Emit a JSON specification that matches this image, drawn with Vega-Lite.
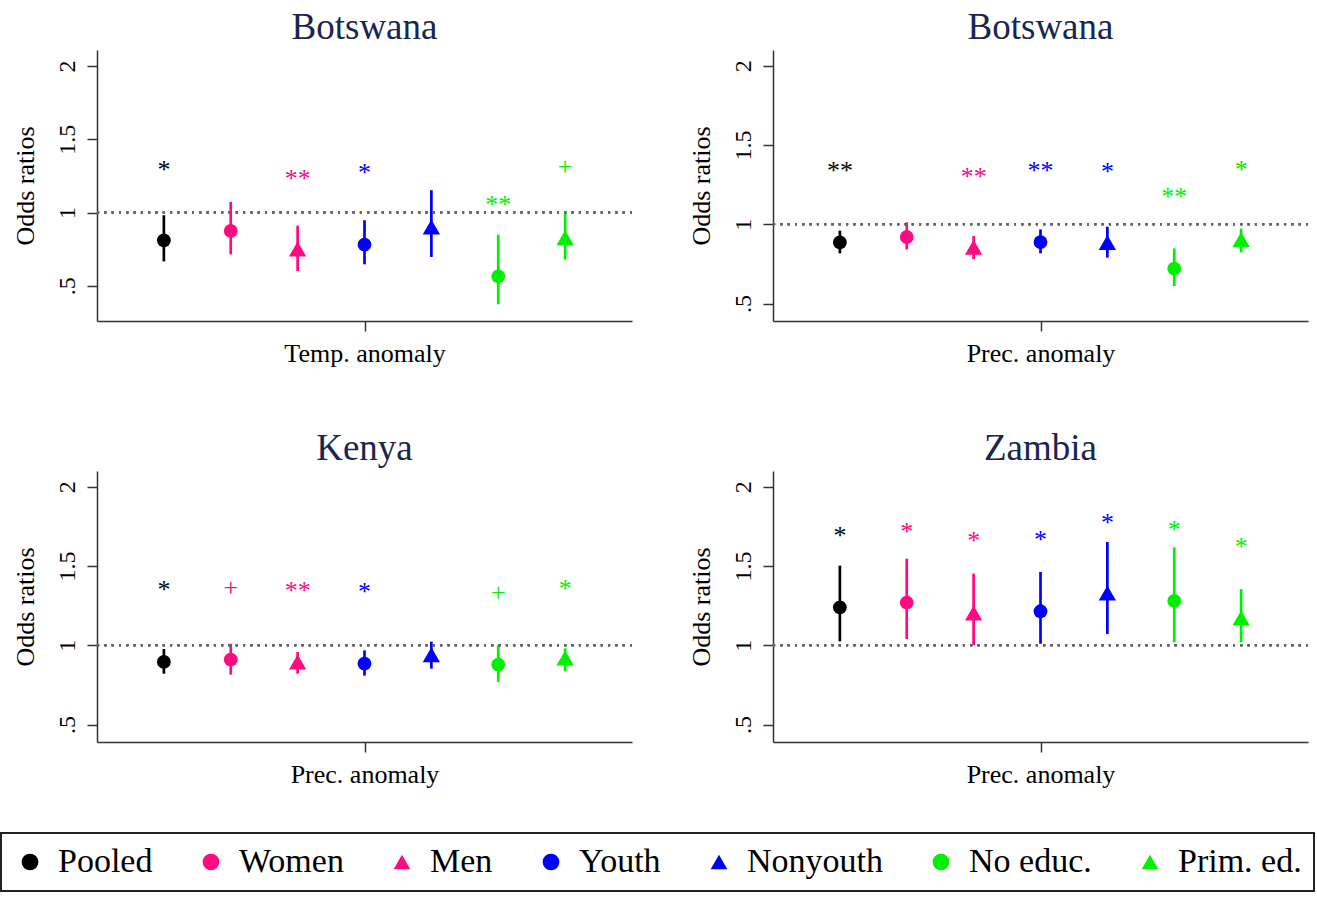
{
  "$schema": "https://vega.github.io/schema/vega-lite/v6.json",
  "background": "white",
  "padding": {"left": 0, "top": 9, "right": 1, "bottom": 1},
  "data": {"values": [
    {"panel": "p1", "group": "Pooled", "or": 0.811, "lo": 0.667, "hi": 0.982, "sig": "*", "sig_y": 1.32},
    {"panel": "p1", "group": "Women", "or": 0.875, "lo": 0.715, "hi": 1.073, "sig": "", "sig_y": null},
    {"panel": "p1", "group": "Men", "or": 0.752, "lo": 0.601, "hi": 0.911, "sig": "**", "sig_y": 1.257},
    {"panel": "p1", "group": "Youth", "or": 0.781, "lo": 0.647, "hi": 0.948, "sig": "*", "sig_y": 1.30},
    {"panel": "p1", "group": "Nonyouth", "or": 0.902, "lo": 0.697, "hi": 1.153, "sig": "", "sig_y": null},
    {"panel": "p1", "group": "No educ.", "or": 0.565, "lo": 0.374, "hi": 0.850, "sig": "**", "sig_y": 1.082},
    {"panel": "p1", "group": "Prim. ed.", "or": 0.829, "lo": 0.679, "hi": 0.998, "sig": "+", "sig_y": 1.31},
    {"panel": "p2", "group": "Pooled", "or": 0.886, "lo": 0.817, "hi": 0.960, "sig": "**", "sig_y": 1.364},
    {"panel": "p2", "group": "Women", "or": 0.920, "lo": 0.842, "hi": 1.013, "sig": "", "sig_y": null},
    {"panel": "p2", "group": "Men", "or": 0.855, "lo": 0.779, "hi": 0.926, "sig": "**", "sig_y": 1.326},
    {"panel": "p2", "group": "Youth", "or": 0.888, "lo": 0.817, "hi": 0.968, "sig": "**", "sig_y": 1.364},
    {"panel": "p2", "group": "Nonyouth", "or": 0.886, "lo": 0.790, "hi": 0.985, "sig": "*", "sig_y": 1.354},
    {"panel": "p2", "group": "No educ.", "or": 0.720, "lo": 0.611, "hi": 0.848, "sig": "**", "sig_y": 1.196},
    {"panel": "p2", "group": "Prim. ed.", "or": 0.905, "lo": 0.823, "hi": 0.973, "sig": "*", "sig_y": 1.37},
    {"panel": "p3", "group": "Pooled", "or": 0.895, "lo": 0.821, "hi": 0.977, "sig": "*", "sig_y": 1.372},
    {"panel": "p3", "group": "Women", "or": 0.910, "lo": 0.815, "hi": 1.010, "sig": "+", "sig_y": 1.362},
    {"panel": "p3", "group": "Men", "or": 0.895, "lo": 0.821, "hi": 0.958, "sig": "**", "sig_y": 1.366},
    {"panel": "p3", "group": "Youth", "or": 0.884, "lo": 0.809, "hi": 0.968, "sig": "*", "sig_y": 1.362},
    {"panel": "p3", "group": "Nonyouth", "or": 0.941, "lo": 0.853, "hi": 1.023, "sig": "", "sig_y": null},
    {"panel": "p3", "group": "No educ.", "or": 0.878, "lo": 0.769, "hi": 1.000, "sig": "+", "sig_y": 1.33},
    {"panel": "p3", "group": "Prim. ed.", "or": 0.920, "lo": 0.836, "hi": 0.981, "sig": "*", "sig_y": 1.383},
    {"panel": "p4", "group": "Pooled", "or": 1.240, "lo": 1.025, "hi": 1.503, "sig": "*", "sig_y": 1.713},
    {"panel": "p4", "group": "Women", "or": 1.269, "lo": 1.040, "hi": 1.547, "sig": "*", "sig_y": 1.74},
    {"panel": "p4", "group": "Men", "or": 1.204, "lo": 1.000, "hi": 1.452, "sig": "*", "sig_y": 1.681},
    {"panel": "p4", "group": "Youth", "or": 1.215, "lo": 1.010, "hi": 1.463, "sig": "*", "sig_y": 1.688},
    {"panel": "p4", "group": "Nonyouth", "or": 1.330, "lo": 1.071, "hi": 1.652, "sig": "*", "sig_y": 1.80},
    {"panel": "p4", "group": "No educ.", "or": 1.280, "lo": 1.019, "hi": 1.618, "sig": "*", "sig_y": 1.755},
    {"panel": "p4", "group": "Prim. ed.", "or": 1.172, "lo": 1.019, "hi": 1.355, "sig": "*", "sig_y": 1.646}
  ]},
  "columns": 2,
  "bounds": "flush",
  "spacing": {"row": 150, "column": 141},
  "resolve": {"scale": {"color": "shared", "shape": "shared", "stroke": "shared", "fill": "shared", "y": "independent"}},
  "concat": [
    {
      "title": "Botswana",
      "width": 535, "height": 271,
      "transform": [{"filter": "datum.panel == 'p1'"}],
      "layer": [
        {"mark": {"type": "rule", "strokeWidth": 2.7},
         "encoding": {
           "x": {"field": "group", "type": "nominal", "scale": {"type": "point", "padding": 1, "domain": ["Pooled", "Women", "Men", "Youth", "Nonyouth", "No educ.", "Prim. ed."]}, "axis": {"values": ["Youth"], "labelExpr": "'Temp. anomaly'", "title": null, "labelAngle": 0}},
           "y": {"field": "lo", "type": "quantitative", "scale": {"domain": [0.26, 2.11], "nice": false, "zero": false}, "axis": {"title": "Odds ratios", "values": [0.5, 1, 1.5, 2], "labelExpr": "datum.value == 0.5 ? '.5' : toString(datum.value)"}},
           "y2": {"field": "hi"},
           "stroke": {"field": "group", "type": "nominal", "legend": null, "scale": {"domain": ["Prim. ed.", "No educ.", "Nonyouth", "Youth", "Men", "Women", "Pooled"], "range": ["#00f000", "#00f000", "#0000ff", "#0000ff", "#ff0a80", "#ff0a80", "#000000"]}}}},
        {"mark": {"type": "rule", "strokeDash": [2, 5.3], "strokeWidth": 2, "color": "#666"}, "encoding": {"y": {"datum": 1, "type": "quantitative"}}},
        {"transform": [{"filter": "indexof(['Men', 'Nonyouth', 'Prim. ed.'], datum.group) < 0"}],
         "mark": {"type": "point", "filled": true, "opacity": 1, "size": 190},
         "encoding": {
           "x": {"field": "group", "type": "nominal"},
           "y": {"field": "or", "type": "quantitative"},
           "color": {"field": "group", "type": "nominal", "title": null, "scale": {"domain": ["Pooled", "Women", "Men", "Youth", "Nonyouth", "No educ.", "Prim. ed."], "range": ["#000000", "#ff0a80", "#ff0a80", "#0000ff", "#0000ff", "#00f000", "#00f000"]}},
           "shape": {"field": "group", "type": "nominal", "title": null, "scale": {"domain": ["Pooled", "Women", "Men", "Youth", "Nonyouth", "No educ.", "Prim. ed."], "range": ["circle", "circle", "triangle-up", "circle", "triangle-up", "circle", "triangle-up"]}}}},
        {"transform": [{"filter": "indexof(['Men', 'Nonyouth', 'Prim. ed.'], datum.group) >= 0"}],
         "mark": {"type": "point", "filled": true, "opacity": 1, "size": 300},
         "encoding": {
           "x": {"field": "group", "type": "nominal"},
           "y": {"field": "or", "type": "quantitative"},
           "color": {"field": "group", "type": "nominal", "title": null},
           "shape": {"field": "group", "type": "nominal", "title": null}}},
        {"transform": [{"filter": "datum.sig != '+'"}],
         "mark": {"type": "text", "fontSize": 26, "baseline": "middle", "dy": 4, "font": "Liberation Serif"},
         "encoding": {
           "x": {"field": "group", "type": "nominal"},
           "y": {"field": "sig_y", "type": "quantitative"},
           "text": {"field": "sig"},
           "fill": {"field": "group", "type": "nominal", "legend": null, "scale": {"domain": ["Prim. ed.", "No educ.", "Nonyouth", "Youth", "Men", "Women", "Pooled"], "range": ["#00f000", "#00f000", "#0000ff", "#0000ff", "#ff0a80", "#ff0a80", "#000000"]}}}},
        {"transform": [{"filter": "datum.sig == '+'"}],
         "mark": {"type": "text", "fontSize": 26, "baseline": "middle", "dy": 0, "font": "Liberation Serif"},
         "encoding": {
           "x": {"field": "group", "type": "nominal"},
           "y": {"field": "sig_y", "type": "quantitative"},
           "text": {"field": "sig"},
           "fill": {"field": "group", "type": "nominal", "legend": null}}}
      ]
    },
    {
      "title": "Botswana",
      "width": 535, "height": 271,
      "transform": [{"filter": "datum.panel == 'p2'"}],
      "layer": [
        {"mark": {"type": "rule", "strokeWidth": 2.7},
         "encoding": {
           "x": {"field": "group", "type": "nominal", "scale": {"type": "point", "padding": 1, "domain": ["Pooled", "Women", "Men", "Youth", "Nonyouth", "No educ.", "Prim. ed."]}, "axis": {"values": ["Youth"], "labelExpr": "'Prec. anomaly'", "title": null, "labelAngle": 0}},
           "y": {"field": "lo", "type": "quantitative", "scale": {"domain": [0.39, 2.1], "nice": false, "zero": false}, "axis": {"title": "Odds ratios", "values": [0.5, 1, 1.5, 2], "labelExpr": "datum.value == 0.5 ? '.5' : toString(datum.value)"}},
           "y2": {"field": "hi"},
           "stroke": {"field": "group", "type": "nominal", "legend": null}}},
        {"mark": {"type": "rule", "strokeDash": [2, 5.3], "strokeWidth": 2, "color": "#666"}, "encoding": {"y": {"datum": 1, "type": "quantitative"}}},
        {"transform": [{"filter": "indexof(['Men', 'Nonyouth', 'Prim. ed.'], datum.group) < 0"}],
         "mark": {"type": "point", "filled": true, "opacity": 1, "size": 190},
         "encoding": {
           "x": {"field": "group", "type": "nominal"},
           "y": {"field": "or", "type": "quantitative"},
           "color": {"field": "group", "type": "nominal", "title": null},
           "shape": {"field": "group", "type": "nominal", "title": null}}},
        {"transform": [{"filter": "indexof(['Men', 'Nonyouth', 'Prim. ed.'], datum.group) >= 0"}],
         "mark": {"type": "point", "filled": true, "opacity": 1, "size": 300},
         "encoding": {
           "x": {"field": "group", "type": "nominal"},
           "y": {"field": "or", "type": "quantitative"},
           "color": {"field": "group", "type": "nominal", "title": null},
           "shape": {"field": "group", "type": "nominal", "title": null}}},
        {"transform": [{"filter": "datum.sig != '+'"}],
         "mark": {"type": "text", "fontSize": 26, "baseline": "middle", "dy": 4, "font": "Liberation Serif"},
         "encoding": {
           "x": {"field": "group", "type": "nominal"},
           "y": {"field": "sig_y", "type": "quantitative"},
           "text": {"field": "sig"},
           "fill": {"field": "group", "type": "nominal", "legend": null}}},
        {"transform": [{"filter": "datum.sig == '+'"}],
         "mark": {"type": "text", "fontSize": 26, "baseline": "middle", "dy": 0, "font": "Liberation Serif"},
         "encoding": {
           "x": {"field": "group", "type": "nominal"},
           "y": {"field": "sig_y", "type": "quantitative"},
           "text": {"field": "sig"},
           "fill": {"field": "group", "type": "nominal", "legend": null}}}
      ]
    },
    {
      "title": "Kenya",
      "width": 535, "height": 271,
      "transform": [{"filter": "datum.panel == 'p3'"}],
      "layer": [
        {"mark": {"type": "rule", "strokeWidth": 2.7},
         "encoding": {
           "x": {"field": "group", "type": "nominal", "scale": {"type": "point", "padding": 1, "domain": ["Pooled", "Women", "Men", "Youth", "Nonyouth", "No educ.", "Prim. ed."]}, "axis": {"values": ["Youth"], "labelExpr": "'Prec. anomaly'", "title": null, "labelAngle": 0}},
           "y": {"field": "lo", "type": "quantitative", "scale": {"domain": [0.39, 2.1], "nice": false, "zero": false}, "axis": {"title": "Odds ratios", "values": [0.5, 1, 1.5, 2], "labelExpr": "datum.value == 0.5 ? '.5' : toString(datum.value)"}},
           "y2": {"field": "hi"},
           "stroke": {"field": "group", "type": "nominal", "legend": null}}},
        {"mark": {"type": "rule", "strokeDash": [2, 5.3], "strokeWidth": 2, "color": "#666"}, "encoding": {"y": {"datum": 1, "type": "quantitative"}}},
        {"transform": [{"filter": "indexof(['Men', 'Nonyouth', 'Prim. ed.'], datum.group) < 0"}],
         "mark": {"type": "point", "filled": true, "opacity": 1, "size": 190},
         "encoding": {
           "x": {"field": "group", "type": "nominal"},
           "y": {"field": "or", "type": "quantitative"},
           "color": {"field": "group", "type": "nominal", "title": null},
           "shape": {"field": "group", "type": "nominal", "title": null}}},
        {"transform": [{"filter": "indexof(['Men', 'Nonyouth', 'Prim. ed.'], datum.group) >= 0"}],
         "mark": {"type": "point", "filled": true, "opacity": 1, "size": 300},
         "encoding": {
           "x": {"field": "group", "type": "nominal"},
           "y": {"field": "or", "type": "quantitative"},
           "color": {"field": "group", "type": "nominal", "title": null},
           "shape": {"field": "group", "type": "nominal", "title": null}}},
        {"transform": [{"filter": "datum.sig != '+'"}],
         "mark": {"type": "text", "fontSize": 26, "baseline": "middle", "dy": 4, "font": "Liberation Serif"},
         "encoding": {
           "x": {"field": "group", "type": "nominal"},
           "y": {"field": "sig_y", "type": "quantitative"},
           "text": {"field": "sig"},
           "fill": {"field": "group", "type": "nominal", "legend": null}}},
        {"transform": [{"filter": "datum.sig == '+'"}],
         "mark": {"type": "text", "fontSize": 26, "baseline": "middle", "dy": 0, "font": "Liberation Serif"},
         "encoding": {
           "x": {"field": "group", "type": "nominal"},
           "y": {"field": "sig_y", "type": "quantitative"},
           "text": {"field": "sig"},
           "fill": {"field": "group", "type": "nominal", "legend": null}}}
      ]
    },
    {
      "title": "Zambia",
      "width": 535, "height": 271,
      "transform": [{"filter": "datum.panel == 'p4'"}],
      "layer": [
        {"mark": {"type": "rule", "strokeWidth": 2.7},
         "encoding": {
           "x": {"field": "group", "type": "nominal", "scale": {"type": "point", "padding": 1, "domain": ["Pooled", "Women", "Men", "Youth", "Nonyouth", "No educ.", "Prim. ed."]}, "axis": {"values": ["Youth"], "labelExpr": "'Prec. anomaly'", "title": null, "labelAngle": 0}},
           "y": {"field": "lo", "type": "quantitative", "scale": {"domain": [0.39, 2.1], "nice": false, "zero": false}, "axis": {"title": "Odds ratios", "values": [0.5, 1, 1.5, 2], "labelExpr": "datum.value == 0.5 ? '.5' : toString(datum.value)"}},
           "y2": {"field": "hi"},
           "stroke": {"field": "group", "type": "nominal", "legend": null}}},
        {"mark": {"type": "rule", "strokeDash": [2, 5.3], "strokeWidth": 2, "color": "#666"}, "encoding": {"y": {"datum": 1, "type": "quantitative"}}},
        {"transform": [{"filter": "indexof(['Men', 'Nonyouth', 'Prim. ed.'], datum.group) < 0"}],
         "mark": {"type": "point", "filled": true, "opacity": 1, "size": 190},
         "encoding": {
           "x": {"field": "group", "type": "nominal"},
           "y": {"field": "or", "type": "quantitative"},
           "color": {"field": "group", "type": "nominal", "title": null},
           "shape": {"field": "group", "type": "nominal", "title": null}}},
        {"transform": [{"filter": "indexof(['Men', 'Nonyouth', 'Prim. ed.'], datum.group) >= 0"}],
         "mark": {"type": "point", "filled": true, "opacity": 1, "size": 300},
         "encoding": {
           "x": {"field": "group", "type": "nominal"},
           "y": {"field": "or", "type": "quantitative"},
           "color": {"field": "group", "type": "nominal", "title": null},
           "shape": {"field": "group", "type": "nominal", "title": null}}},
        {"transform": [{"filter": "datum.sig != '+'"}],
         "mark": {"type": "text", "fontSize": 26, "baseline": "middle", "dy": 4, "font": "Liberation Serif"},
         "encoding": {
           "x": {"field": "group", "type": "nominal"},
           "y": {"field": "sig_y", "type": "quantitative"},
           "text": {"field": "sig"},
           "fill": {"field": "group", "type": "nominal", "legend": null}}},
        {"transform": [{"filter": "datum.sig == '+'"}],
         "mark": {"type": "text", "fontSize": 26, "baseline": "middle", "dy": 0, "font": "Liberation Serif"},
         "encoding": {
           "x": {"field": "group", "type": "nominal"},
           "y": {"field": "sig_y", "type": "quantitative"},
           "text": {"field": "sig"},
           "fill": {"field": "group", "type": "nominal", "legend": null}}}
      ]
    }
  ],
  "config": {
    "font": "Liberation Serif",
    "view": {"stroke": null},
    "axis": {"grid": false, "domainColor": "#333333", "tickColor": "#333333", "domainWidth": 1.5, "tickWidth": 1.5, "tickSize": 10, "labelFont": "Liberation Serif", "titleFont": "Liberation Serif", "labelColor": "black", "titleColor": "black", "titleFontWeight": "normal"},
    "axisX": {"labelFontSize": 26, "labelPadding": 9},
    "axisY": {"labelFontSize": 24, "labelAngle": -90, "titleFontSize": 26, "labelPadding": 8, "titlePadding": 17},
    "title": {"font": "Liberation Serif", "fontSize": 37, "fontWeight": "normal", "color": "#1a2550", "frame": "group", "anchor": "middle", "offset": 3},
    "legend": {"orient": "none", "legendX": -96, "legendY": 783, "direction": "horizontal", "title": null, "labelFont": "Liberation Serif", "labelFontSize": 34, "labelColor": "black", "labelLimit": 400, "strokeColor": "#222222", "strokeWidth": 2, "padding": 12, "columnPadding": 41, "labelOffset": 11, "symbolSize": 280, "symbolStrokeWidth": 0}
  }
}
